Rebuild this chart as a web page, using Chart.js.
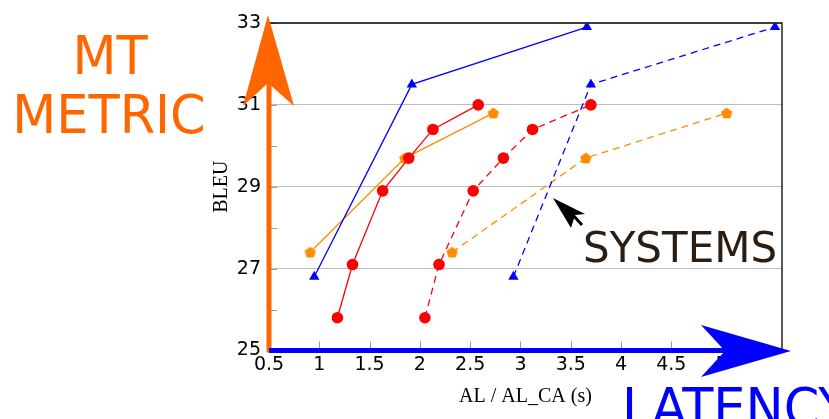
<!DOCTYPE html>
<html>
<head>
<meta charset="utf-8">
<script src="https://cdn.jsdelivr.net/npm/chart.js@4.4.0/dist/chart.umd.min.js"></script>
<style>
  html, body { margin: 0; padding: 0; background: #fff; }
</style>
</head>
<body>
<canvas id="chart" width="829" height="419"></canvas>
<script>
// data (AL / AL_CA seconds vs BLEU)
const blueSolidX = [0.95, 1.92, 3.66];
const blueSolidY = [26.8, 31.5, 32.9];
const redSolidX = [1.18, 1.33, 1.63, 1.89, 2.13, 2.58];
const redSolidY = [25.8, 27.1, 28.9, 29.7, 30.4, 31.0];
const orangeSolidX = [0.91, 1.85, 2.73];
const orangeSolidY = [27.4, 29.7, 30.8];
const blueDashX = [2.93, 3.70, 5.53];
const blueDashY = [26.8, 31.5, 32.9];
const redDashX = [2.05, 2.19, 2.53, 2.83, 3.12, 3.70];
const redDashY = [25.8, 27.1, 28.9, 29.7, 30.4, 31.0];
const orangeDashX = [2.32, 3.65, 5.05];
const orangeDashY = [27.4, 29.7, 30.8];

const BLUE = '#0000ff', RED = '#ff0000', ORANGE = '#ff8c00';
const ARROW_ORANGE = '#ff6600';

function pts(xs, ys) {
  return xs.map((x, i) => ({ x: x, y: ys[i] }));
}

// small pentagon marker (no built-in pointStyle for it)
function pentagon(color, r) {
  const c = document.createElement('canvas');
  const s = Math.ceil(r * 2 + 2);
  c.width = s; c.height = s;
  const g = c.getContext('2d');
  g.fillStyle = color;
  g.beginPath();
  for (let i = 0; i < 5; i++) {
    const a = -Math.PI / 2 + i * 2 * Math.PI / 5;
    const px = s / 2 + r * Math.cos(a), py = s / 2 + r * Math.sin(a) + 0.5;
    if (i === 0) g.moveTo(px, py); else g.lineTo(px, py);
  }
  g.closePath();
  g.fill();
  return c;
}
const penta = pentagon(ORANGE, 6);

function series(xs, ys, color, style, dashed) {
  return {
    data: pts(xs, ys),
    borderColor: color,
    backgroundColor: color,
    borderWidth: 1.3,
    borderDash: dashed ? [7, 5] : [],
    pointStyle: style,
    pointRadius: style === 'circle' ? 5.8 : 6,
    pointBorderWidth: 0,
    pointBackgroundColor: color,
    showLine: true,
    tension: 0
  };
}

function wideText(ctx, txt, x, y, sx) {
  ctx.save();
  ctx.translate(x, y);
  ctx.scale(sx, 1);
  ctx.fillText(txt, 0, 0);
  ctx.restore();
}

const decor = {
  id: 'decor',
  beforeDatasetsDraw(chart) {
    const { ctx, chartArea: a, scales: { x, y } } = chart;
    ctx.save();
    // inward ticks
    ctx.strokeStyle = '#999';
    ctx.lineWidth = 1;
    x.ticks.forEach(t => {
      const px = Math.round(x.getPixelForValue(t.value)) + 0.5;
      ctx.beginPath(); ctx.moveTo(px, a.bottom); ctx.lineTo(px, a.bottom - 9); ctx.stroke();
    });
    y.ticks.forEach(t => {
      const py = Math.round(y.getPixelForValue(t.value)) + 0.5;
      ctx.beginPath(); ctx.moveTo(a.left, py); ctx.lineTo(a.left + 8, py); ctx.stroke();
    });
    // top and right frame
    ctx.strokeStyle = '#000';
    ctx.lineWidth = 1.3;
    ctx.beginPath();
    ctx.moveTo(a.left, a.top); ctx.lineTo(a.right, a.top); ctx.lineTo(a.right, a.bottom);
    ctx.stroke();
    ctx.restore();
  },
  afterDraw(chart) {
    const { ctx, chartArea: a } = chart;
    ctx.save();
    // orange vertical arrow
    ctx.fillStyle = ARROW_ORANGE;
    ctx.fillRect(a.left - 2.5, 82, 5, a.bottom + 2 - 82);
    ctx.beginPath();
    ctx.moveTo(a.left - 1, 15);
    ctx.lineTo(a.left + 25, 106);
    ctx.lineTo(a.left - 1, 83);
    ctx.lineTo(a.left - 26, 106);
    ctx.closePath();
    ctx.fill();
    // blue horizontal arrow
    ctx.fillStyle = BLUE;
    ctx.fillRect(a.left, 348, 726 - a.left, 5);
    ctx.beginPath();
    ctx.moveTo(701, 325);
    ctx.lineTo(791, 351);
    ctx.lineTo(701, 377);
    ctx.lineTo(725, 351);
    ctx.closePath();
    ctx.fill();
    // black pointer
    ctx.fillStyle = '#000';
    ctx.beginPath();
    ctx.moveTo(553, 198);
    ctx.lineTo(585, 214);
    ctx.lineTo(575, 215);
    ctx.lineTo(571, 228);
    ctx.closePath();
    ctx.fill();
    ctx.strokeStyle = '#000';
    ctx.lineWidth = 3;
    ctx.beginPath(); ctx.moveTo(572, 214); ctx.lineTo(582, 225); ctx.stroke();
    // texts
    ctx.fillStyle = ARROW_ORANGE;
    ctx.font = '54px "DejaVu Sans Condensed", "DejaVu Sans"';
    ctx.textAlign = 'center';
    ctx.textBaseline = 'alphabetic';
    wideText(ctx, 'MT', 110, 74, 1.05);
    wideText(ctx, 'METRIC', 109, 133, 1.05);
    ctx.fillStyle = BLUE;
    ctx.textAlign = 'left';
    wideText(ctx, 'LATENCY', 622, 426, 1.05);
    ctx.fillStyle = '#2b1d10';
    ctx.font = '42px "DejaVu Sans"';
    ctx.fillText('SYSTEMS', 583, 262);
    ctx.restore();
  }
};

Chart.defaults.font.family = '"DejaVu Sans"';
Chart.defaults.color = '#000';

new Chart(document.getElementById('chart'), {
  type: 'line',
  data: {
    datasets: [
      series(blueSolidX, blueSolidY, BLUE, 'triangle', false),
      series(redSolidX, redSolidY, RED, 'circle', false),
      series(orangeSolidX, orangeSolidY, ORANGE, penta, false),
      series(blueDashX, blueDashY, BLUE, 'triangle', true),
      series(redDashX, redDashY, RED, 'circle', true),
      series(orangeDashX, orangeDashY, ORANGE, penta, true)
    ]
  },
  options: {
    responsive: false,
    animation: false,
    layout: { padding: { left: 210, right: 47, top: 23, bottom: 0 } },
    plugins: { legend: { display: false }, tooltip: { enabled: false } },
    scales: {
      x: {
        type: 'linear',
        min: 0.5,
        max: 5.6,
        afterFit: s => { s.height = 68.5; },
        afterBuildTicks: s => { s.ticks = s.ticks.filter(t => Math.abs(t.value * 2 - Math.round(t.value * 2)) < 1e-6); },
        ticks: { stepSize: 0.5, padding: 3, font: { size: 19 }, callback: v => String(v), maxRotation: 0, autoSkip: false },
        grid: { display: false, drawTicks: false },
        border: { display: false },
        title: { display: true, text: 'AL / AL_CA (s)', font: { family: '"Liberation Serif"', size: 20 }, padding: { top: 0, bottom: 10 } }
      },
      y: {
        min: 25,
        max: 33,
        afterFit: s => { s.width = 59; },
        ticks: { stepSize: 1, padding: 8, font: { size: 19 }, callback: v => (v % 2 === 1 ? String(v) : '') },
        grid: {
          drawTicks: false,
          color: c => ([27, 29, 31].includes(c.tick.value) ? '#bdbdbd' : 'rgba(0,0,0,0)')
        },
        border: { display: false },
        title: { display: true, text: 'BLEU', font: { family: '"Liberation Serif"', size: 20 }, padding: { top: 0, bottom: 0 } }
      }
    }
  },
  plugins: [decor]
});
</script>
</body>
</html>
